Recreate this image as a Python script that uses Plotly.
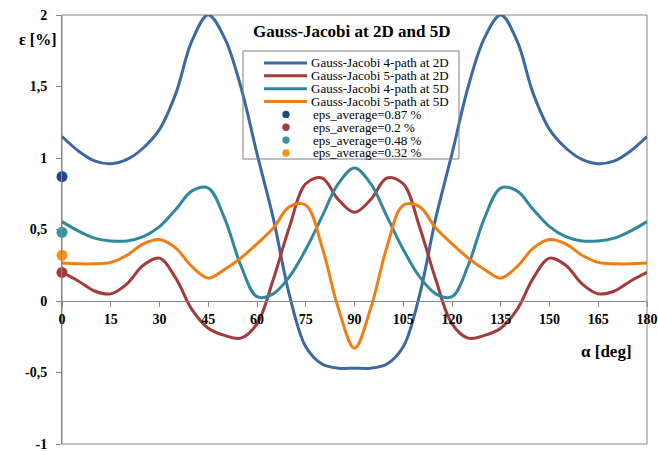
import plotly.graph_objects as go

# Angle grid (degrees)
angle_deg = [0, 5, 10, 15, 20, 25, 30, 35, 40, 45, 50, 55, 60, 65, 70, 75, 80, 85, 90,
             95, 100, 105, 110, 115, 120, 125, 130, 135, 140, 145, 150, 155, 160, 165, 170, 175, 180]

# Relative error eps [%] for each scheme
gj4_2d = [1.15, 1.05, 0.98, 0.96, 0.99, 1.07, 1.20, 1.45, 1.82, 2.00, 1.84, 1.50, 1.03, 0.58, 0.04, -0.32, -0.44, -0.47, -0.47,
          -0.47, -0.44, -0.32, 0.04, 0.58, 1.03, 1.50, 1.84, 2.00, 1.82, 1.45, 1.20, 1.07, 0.99, 0.96, 0.98, 1.05, 1.15]
gj5_2d = [0.20, 0.14, 0.07, 0.05, 0.12, 0.25, 0.30, 0.16, -0.06, -0.19, -0.24, -0.26, -0.16, 0.15, 0.52, 0.82, 0.86, 0.71, 0.62,
          0.71, 0.86, 0.82, 0.52, 0.15, -0.16, -0.26, -0.24, -0.19, -0.06, 0.16, 0.30, 0.25, 0.12, 0.05, 0.07, 0.14, 0.20]
gj4_5d = [0.555, 0.49, 0.44, 0.42, 0.42, 0.45, 0.52, 0.64, 0.77, 0.79, 0.58, 0.25, 0.03, 0.05, 0.17, 0.36, 0.59, 0.82, 0.93,
          0.82, 0.59, 0.36, 0.17, 0.05, 0.03, 0.25, 0.58, 0.79, 0.77, 0.64, 0.52, 0.45, 0.42, 0.42, 0.44, 0.49, 0.555]
gj5_5d = [0.265, 0.26, 0.26, 0.27, 0.32, 0.40, 0.43, 0.37, 0.24, 0.16, 0.22, 0.30, 0.40, 0.51, 0.66, 0.67, 0.38, -0.05, -0.33,
          -0.05, 0.38, 0.67, 0.66, 0.51, 0.40, 0.30, 0.22, 0.16, 0.24, 0.37, 0.43, 0.40, 0.32, 0.27, 0.26, 0.26, 0.265]

series_names = ["Gauss-Jacobi 4-path at 2D", "Gauss-Jacobi 5-path at 2D",
                "Gauss-Jacobi 4-path at 5D", "Gauss-Jacobi 5-path at 5D"]
series_values = [gj4_2d, gj5_2d, gj4_5d, gj5_5d]
line_colors = ["#3C68A4", "#A23B3A", "#31889C", "#F07E14"]

# Average error of each scheme, shown as a dot on the vertical axis
eps_average = [0.87, 0.2, 0.48, 0.32]
avg_labels = ["eps_average=0.87 %", "eps_average=0.2 %", "eps_average=0.48 %", "eps_average=0.32 %"]
avg_colors = ["#1F4A85", "#A03C3C", "#3A92A5", "#F7941D"]

x_ticks = [0, 15, 30, 45, 60, 75, 90, 105, 120, 135, 150, 165, 180]
y_ticks = [-1, -0.5, 0, 0.5, 1, 1.5, 2]
y_tick_text = ["-1", "-0,5", "0", "0,5", "1", "1,5", "2"]

W, H = 658, 452
ML, MR, MT, MB = 62, 11, 15, 8
PW, PH = W - ML - MR, H - MT - MB
AXIS_GRAY = "#868686"
SERIF = "Liberation Serif, Times New Roman, serif"


def px_x(x):
    return (x - ML) / PW


def px_y(y):
    return (H - MB - y) / PH


fig = go.Figure()

for name, vals, col in zip(series_names, series_values, line_colors):
    fig.add_trace(go.Scatter(
        x=angle_deg, y=vals, name=name, mode="lines",
        line=dict(color=col, width=3, shape="spline", smoothing=1.0),
        showlegend=False, hoverinfo="x+y+name",
    ))

for lab, v, col in zip(avg_labels, eps_average, avg_colors):
    fig.add_trace(go.Scatter(
        x=[0], y=[v], name=lab, mode="markers",
        marker=dict(color=col, size=11), cliponaxis=False, showlegend=False,
    ))

shapes = [
    # plot-area frame
    dict(type="rect", xref="paper", yref="paper", x0=0, x1=1, y0=0, y1=1,
         line=dict(color=AXIS_GRAY, width=1), layer="below"),
]
annotations = [
    dict(text="<b>Gauss-Jacobi at 2D and 5D</b>", xref="paper", yref="paper",
         x=px_x(351), y=px_y(32), xanchor="center", yanchor="middle", showarrow=False,
         font=dict(family=SERIF, size=17, color="black")),
    dict(text="<b>ε [%]</b>", xref="paper", yref="paper",
         x=px_x(59), y=px_y(39), xanchor="right", yanchor="middle", showarrow=False,
         font=dict(family=SERIF, size=16, color="black")),
    dict(text="<b>α [deg]</b>", xref="paper", yref="paper",
         x=px_x(634), y=px_y(351), xanchor="right", yanchor="middle", showarrow=False,
         font=dict(family=SERIF, size=17, color="black")),
]

# Legend box (unfilled, curves stay visible through it)
LEG_L, LEG_R, LEG_T, LEG_B = 243, 459, 51, 159
shapes.append(dict(type="rect", xref="paper", yref="paper",
                   x0=px_x(LEG_L), x1=px_x(LEG_R), y0=px_y(LEG_B), y1=px_y(LEG_T),
                   line=dict(color="#7F7F7F", width=1), fillcolor="rgba(0,0,0,0)", layer="above"))
row_y0, row_step = 63, 12.85
legend_rows = [(n, c, "line") for n, c in zip(series_names, line_colors)] + \
              [(n, c, "dot") for n, c in zip(avg_labels, avg_colors)]
for i, (label, col, kind) in enumerate(legend_rows):
    yy = px_y(row_y0 + i * row_step)
    if kind == "line":
        shapes.append(dict(type="line", xref="paper", yref="paper",
                           x0=px_x(264), x1=px_x(307), y0=yy, y1=yy,
                           line=dict(color=col, width=3), layer="above"))
        tx = px_x(309)
    else:
        shapes.append(dict(type="circle", xref="paper", yref="paper",
                           xsizemode="pixel", ysizemode="pixel",
                           xanchor=px_x(286), yanchor=yy, x0=-3.7, x1=3.7, y0=-3.7, y1=3.7,
                           line=dict(color=col, width=0), fillcolor=col, layer="above"))
        tx = px_x(311)
    annotations.append(dict(text=label, xref="paper", yref="paper", x=tx, y=yy,
                            xanchor="left", yanchor="middle", showarrow=False,
                            font=dict(family=SERIF, size=13, color="black")))

fig.update_layout(
    width=W, height=H,
    margin=dict(l=ML, r=MR, t=MT, b=MB, pad=0),
    paper_bgcolor="white", plot_bgcolor="white",
    showlegend=False,
    shapes=shapes, annotations=annotations,
    xaxis=dict(
        range=[0, 180], tickvals=x_ticks, ticktext=[str(t) for t in x_ticks],
        anchor="free", position=1 / 3, automargin=False,
        showline=True, linecolor=AXIS_GRAY, linewidth=1,
        ticks="outside", ticklen=5, tickcolor=AXIS_GRAY,
        showgrid=False, zeroline=False,
        tickfont=dict(family=SERIF, size=14, color="black", weight="bold"),
    ),
    yaxis=dict(
        range=[-1, 2], tickvals=y_ticks, ticktext=y_tick_text, automargin=False,
        showline=True, linecolor=AXIS_GRAY, linewidth=1,
        ticks="outside", ticklen=5, tickcolor=AXIS_GRAY,
        showgrid=False, zeroline=False, ticklabelstandoff=6,
        tickfont=dict(family=SERIF, size=14, color="black", weight="bold"),
    ),
)

fig.write_html("out.html")
